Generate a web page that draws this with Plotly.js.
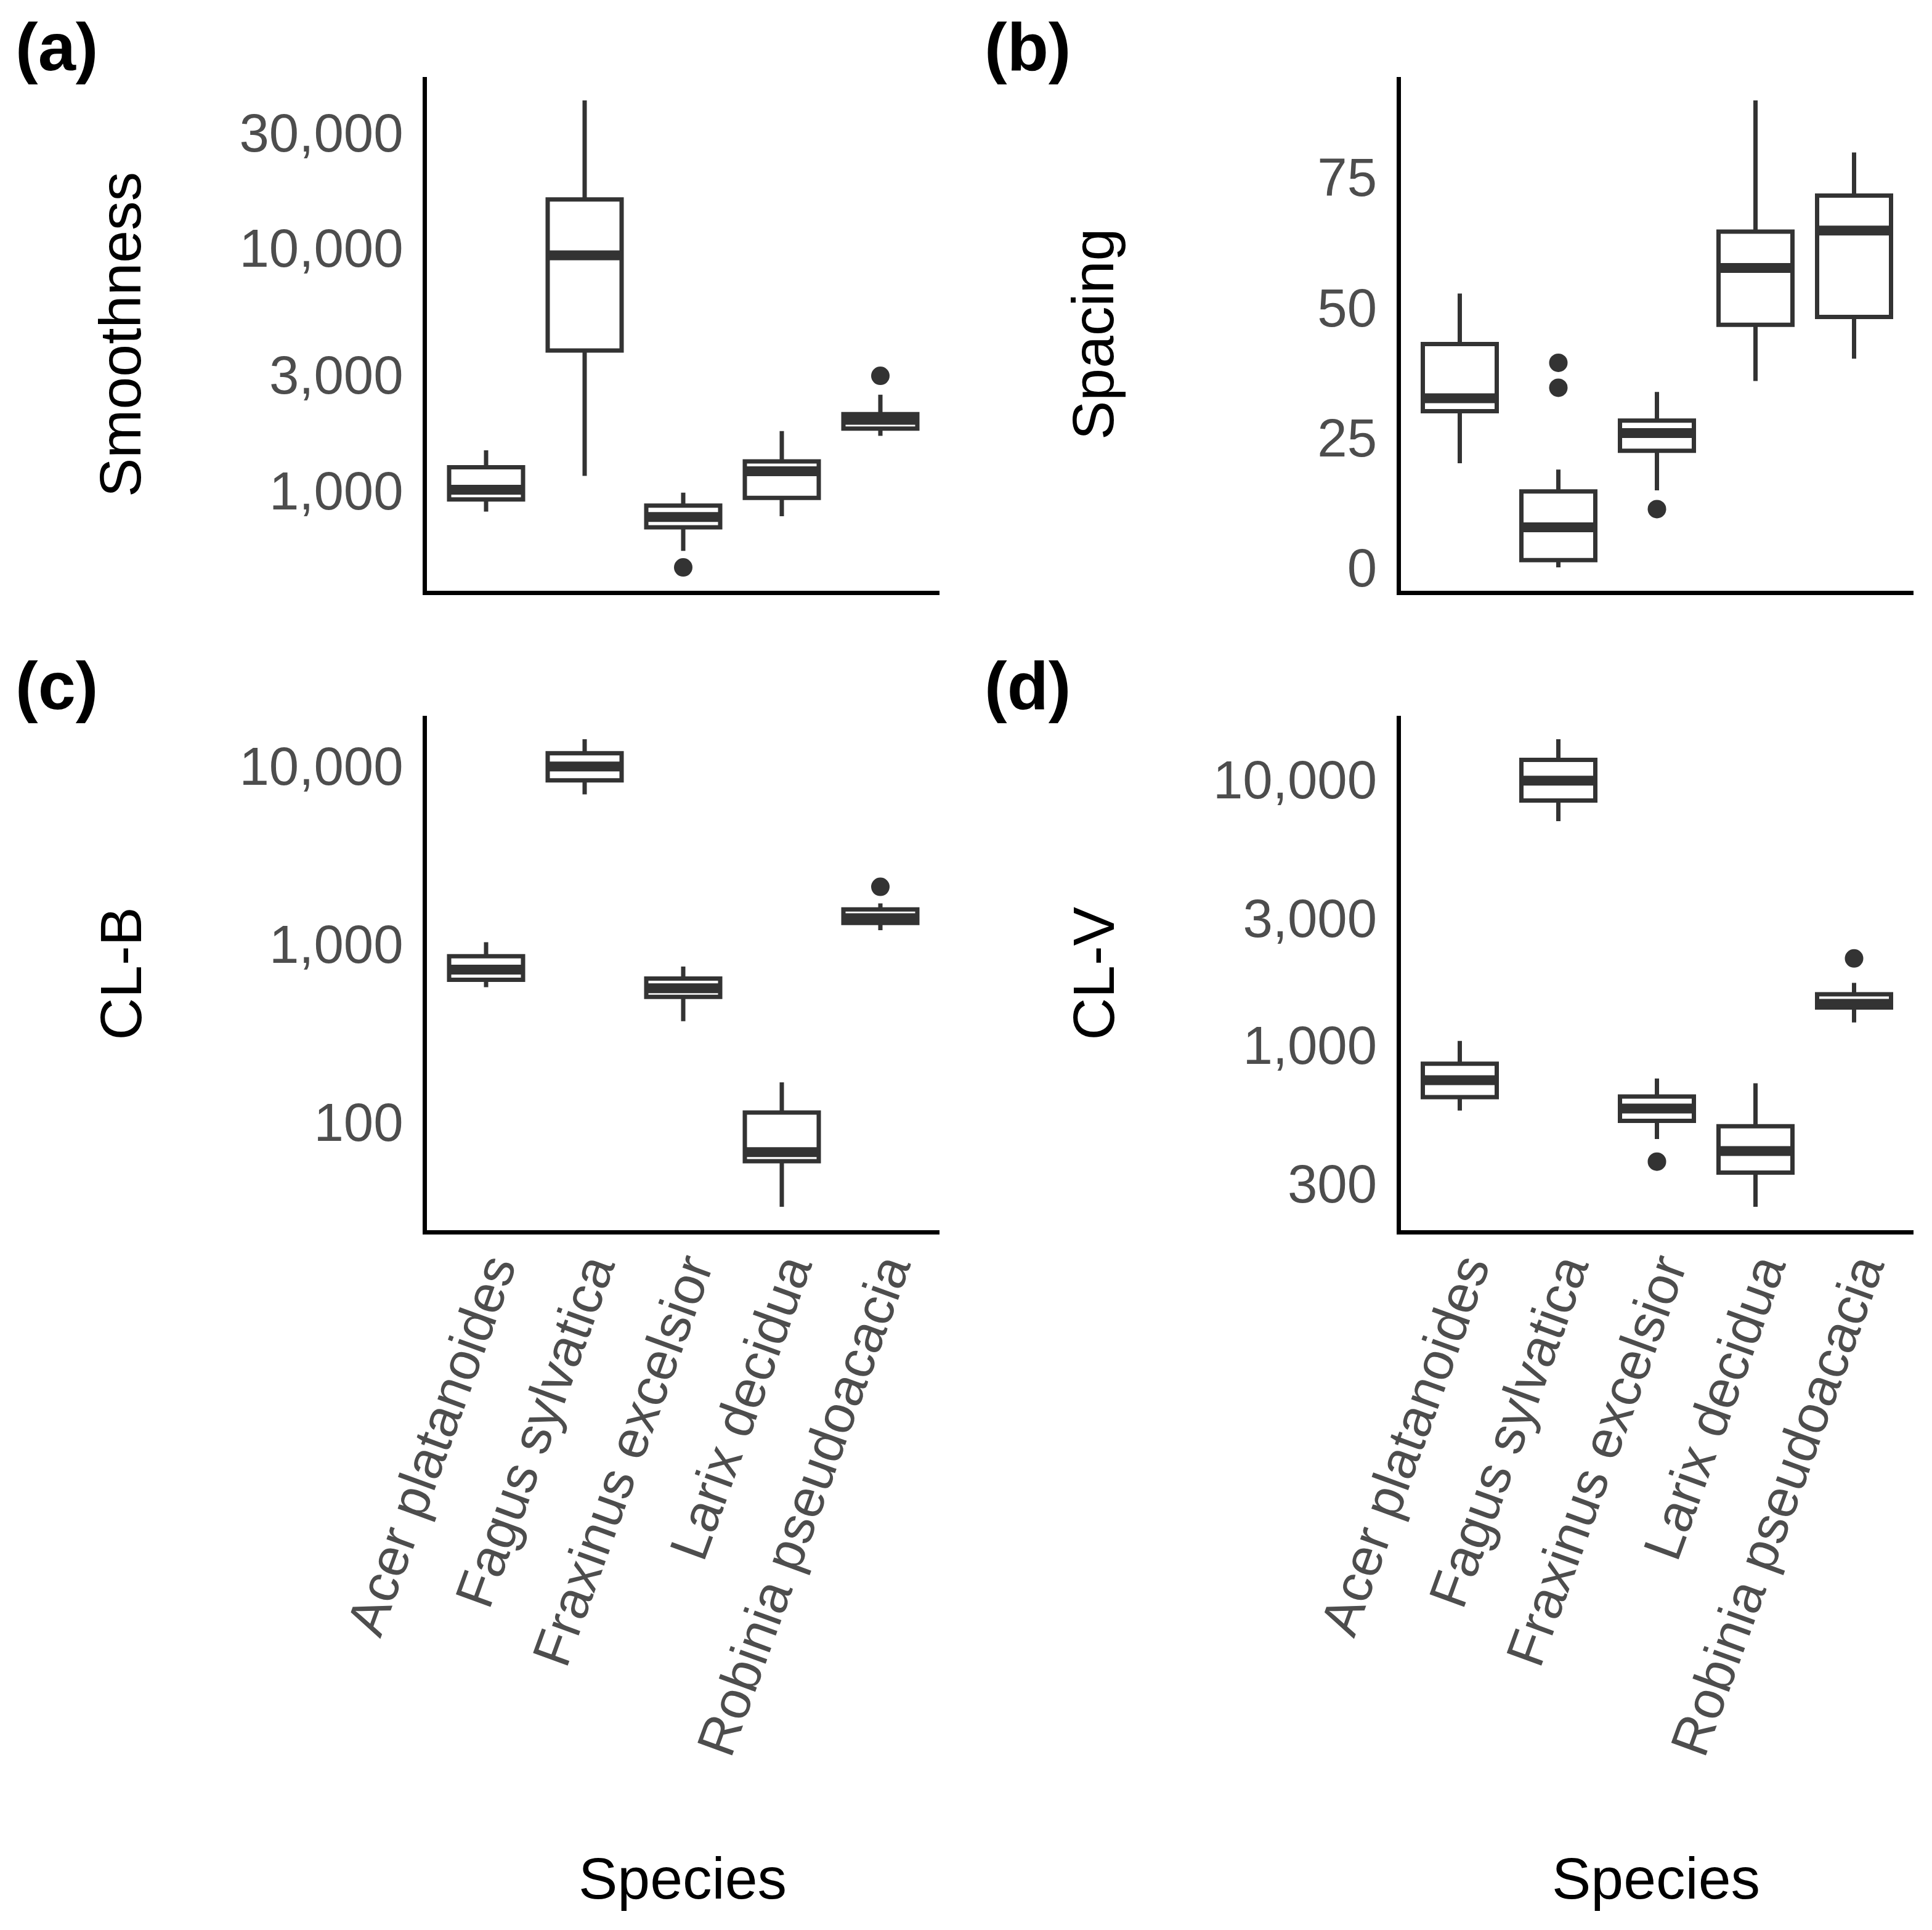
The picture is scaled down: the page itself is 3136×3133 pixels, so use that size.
<!DOCTYPE html>
<html>
<head>
<meta charset="utf-8">
<script src="https://cdn.plot.ly/plotly-3.0.1.min.js"></script>
<style>html,body{margin:0;padding:0;background:#fff;}</style>
</head>
<body>
<div id="chart" style="width:3136px;height:3133px;"></div>
<script>
// ---------- data ----------
const species = ["Acer platanoides", "Fagus sylvatica", "Fraxinus excelsior", "Larix decidua", "Robinia pseudoacacia"];

// (a) Smoothness
const smoothLower  = [821, 1152, 565, 785, 1685];
const smoothQ1     = [921, 3785, 707, 935, 1803];
const smoothMedian = [1010, 9350, 780, 1203, 1960];
const smoothQ3     = [1250, 15900, 868, 1322, 2070];
const smoothUpper  = [1468, 40700, 982, 1763, 2489];
const smoothOutSpecies = [2, 4];
const smoothOutValues  = [483, 2978];

// (b) Spacing
const spacingLower  = [20.1, 0.1, 14.9, 35.9, 40.2];
const spacingQ1     = [30.1, 1.5, 22.5, 46.7, 48.2];
const spacingMedian = [32.6, 7.8, 25.9, 57.6, 64.8];
const spacingQ3     = [43.0, 14.7, 28.3, 64.6, 71.5];
const spacingUpper  = [52.7, 18.9, 33.8, 89.8, 79.8];
const spacingOutSpecies = [1, 1, 2];
const spacingOutValues  = [34.6, 39.4, 11.3];

// (c) CL-B
const clbLower  = [572, 6950, 368, 33.3, 1197];
const clbQ1     = [630, 8340, 505, 60.1, 1315];
const clbMedian = [718, 9980, 565, 67.6, 1400];
const clbQ3     = [855, 11840, 640, 113, 1567];
const clbUpper  = [1025, 14200, 747, 167, 1693];
const clbOutSpecies = [4];
const clbOutValues  = [2100];

// (d) CL-V
const clvLower  = [567, 6970, 443, 246, 1217];
const clvQ1     = [637, 8330, 518, 331, 1385];
const clvMedian = [737, 9900, 577, 399, 1430];
const clvQ3     = [851, 11850, 640, 495, 1553];
const clvUpper  = [1037, 14180, 748, 718, 1714];
const clvOutSpecies = [2, 4];
const clvOutValues  = [364, 2120];

// tick labels
const smoothTicks = [1000, 3000, 10000, 30000];
const smoothTickText = ["1,000", "3,000", "10,000", "30,000"];
const spacingTicks = [0, 25, 50, 75];
const spacingTickText = ["0", "25", "50", "75"];
const clbTicks = [100, 1000, 10000];
const clbTickText = ["100", "1,000", "10,000"];
const clvTicks = [300, 1000, 3000, 10000];
const clvTickText = ["300", "1,000", "3,000", "10,000"];

// ---------- styling ----------
const W = 3136, H = 3133;
const FONT = "Liberation Sans, Arial, sans-serif";
const BOXCOL = "#333333";
const px = v => v / W;
const py = v => 1 - v / H;

const positions = species.map((_, i) => i);
const BOXW = 0.75;

function panelTraces(xa, ya, lower, q1, med, q3, upper, outS, outV) {
  const box = {
    type: "box", x: positions, q1: q1, median: med, q3: q3,
    lowerfence: lower, upperfence: upper,
    width: BOXW, whiskerwidth: 0, boxpoints: false,
    line: { color: BOXCOL, width: 7 }, fillcolor: "white",
    xaxis: xa, yaxis: ya, showlegend: false, hoverinfo: "skip"
  };
  const mx = [], my = [];
  med.forEach((m, i) => { mx.push(i - BOXW / 2, i + BOXW / 2, null); my.push(m, m, null); });
  const medLine = {
    type: "scatter", mode: "lines", x: mx, y: my,
    line: { color: BOXCOL, width: 16 }, xaxis: xa, yaxis: ya,
    showlegend: false, hoverinfo: "skip"
  };
  const outl = {
    type: "scatter", mode: "markers", x: outS, y: outV,
    marker: { color: BOXCOL, size: 30 }, xaxis: xa, yaxis: ya,
    showlegend: false, hoverinfo: "skip"
  };
  return [box, medLine, outl];
}

function expandRange(vals, isLog) {
  const v = isLog ? vals.map(d => Math.log10(d)) : vals;
  const lo = Math.min(...v), hi = Math.max(...v);
  const e = (hi - lo) * 0.05;
  return [lo - e, hi + e];
}

const data = [].concat(
  panelTraces("x", "y", smoothLower, smoothQ1, smoothMedian, smoothQ3, smoothUpper, smoothOutSpecies, smoothOutValues),
  panelTraces("x2", "y2", spacingLower, spacingQ1, spacingMedian, spacingQ3, spacingUpper, spacingOutSpecies, spacingOutValues),
  panelTraces("x3", "y3", clbLower, clbQ1, clbMedian, clbQ3, clbUpper, clbOutSpecies, clbOutValues),
  panelTraces("x4", "y4", clvLower, clvQ1, clvMedian, clvQ3, clvUpper, clvOutSpecies, clvOutValues)
);

const tickFont = { family: FONT, size: 87, color: "#4D4D4D" };

function xAxis(domain, anchor, showLabels) {
  return {
    domain: domain, anchor: anchor, type: "linear", range: [-0.6, species.length - 0.4],
    tickmode: "array", tickvals: positions, ticktext: species,
    showticklabels: showLabels, tickangle: -70, tickfont: tickFont,
    ticks: "", ticklabelstandoff: -28, ticklabelshift: 9,
    showline: true, linecolor: "black", linewidth: 7,
    showgrid: false, zeroline: false, fixedrange: true
  };
}
function yAxis(domain, anchor, type, range, tv, tt) {
  return {
    domain: domain, anchor: anchor, type: type, range: range,
    tickmode: "array", tickvals: tv, ticktext: tt, tickfont: tickFont,
    ticks: "outside", ticklen: 14, tickcolor: "rgba(0,0,0,0)",
    showline: true, linecolor: "black", linewidth: 7,
    showgrid: false, zeroline: false, fixedrange: true
  };
}

const xLeft = [px(693), px(1525)];
const xRight = [px(2273.5), px(3105.5)];
const yTop = [py(959), py(125)];
const yBot = [py(1997), py(1162)];

const layout = {
  width: W, height: H,
  margin: { l: 0, r: 0, t: 0, b: 0 },
  paper_bgcolor: "white", plot_bgcolor: "white",
  showlegend: false,
  font: { family: FONT },
  xaxis: xAxis(xLeft, "y", false),
  yaxis: yAxis(yTop, "x", "log", expandRange(smoothLower.concat(smoothUpper, smoothOutValues), true), smoothTicks, smoothTickText),
  xaxis2: xAxis(xRight, "y2", false),
  yaxis2: yAxis(yTop, "x2", "linear", expandRange(spacingLower.concat(spacingUpper, spacingOutValues), false), spacingTicks, spacingTickText),
  xaxis3: xAxis(xLeft, "y3", true),
  yaxis3: yAxis(yBot, "x3", "log", expandRange(clbLower.concat(clbUpper, clbOutValues), true), clbTicks, clbTickText),
  xaxis4: xAxis(xRight, "y4", true),
  yaxis4: yAxis(yBot, "x4", "log", expandRange(clvLower.concat(clvUpper, clvOutValues), true), clvTicks, clvTickText),
  annotations: []
};

const titleFont = { family: FONT, size: 95, color: "black" };
const labelFont = { family: FONT, size: 110, color: "black" };

function addAnn(text, x, y, opts) {
  layout.annotations.push(Object.assign({
    text: text, xref: "paper", yref: "paper", x: x, y: y,
    showarrow: false, xanchor: "center", yanchor: "middle", font: titleFont
  }, opts || {}));
}
// panel labels
addAnn("<b>(a)</b>", px(23), py(75), { xanchor: "left", font: labelFont });
addAnn("<b>(b)</b>", px(1596), py(75), { xanchor: "left", font: labelFont });
addAnn("<b>(c)</b>", px(23), py(1112), { xanchor: "left", font: labelFont });
addAnn("<b>(d)</b>", px(1596), py(1112), { xanchor: "left", font: labelFont });
// y titles
addAnn("Smoothness", px(195), py(543), { textangle: -90 });
addAnn("Spacing", px(1774), py(543), { textangle: -90 });
addAnn("CL-B", px(195), py(1580.5), { textangle: -90 });
addAnn("CL-V", px(1774), py(1580.5), { textangle: -90 });
// x titles
addAnn("Species", px(1107.5), py(3049));
addAnn("Species", px(2688), py(3049));

Plotly.newPlot("chart", data, layout, { staticPlot: true, displayModeBar: false });
</script>
</body>
</html>
